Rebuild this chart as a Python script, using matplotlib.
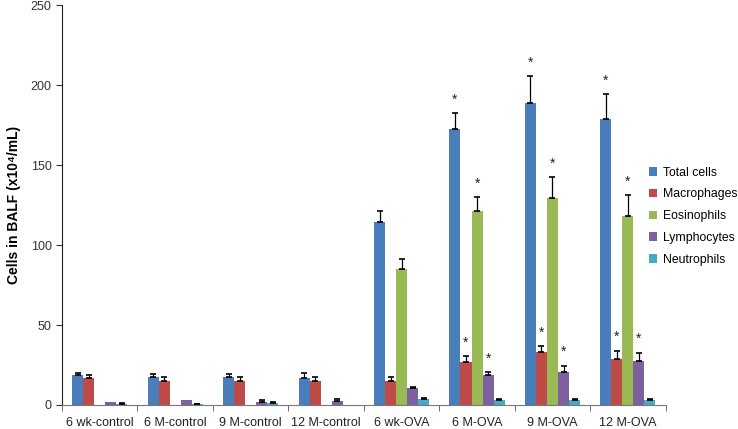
import numpy as np
import matplotlib
matplotlib.use("Agg")
import matplotlib.pyplot as plt

plt.rcParams['font.family'] = ['Liberation Sans', 'DejaVu Sans']

groups = ["6 wk-control", "6 M-control", "9 M-control", "12 M-control",
          "6 wk-OVA", "6 M-OVA", "9 M-OVA", "12 M-OVA"]
series = ["Total cells", "Macrophages", "Eosinophils", "Lymphocytes", "Neutrophils"]
colors = ["#4a7ebb", "#be4b48", "#98b954", "#7d60a0", "#46aac5"]

# nan = no bar / no error bar drawn
total       = [18.5, 17.7, 17.7, 17.1, 114.5, 172.7, 189.0, 178.5]
total_err   = [1.5, 1.5, 1.5, 2.7, 6.5, 9.6, 16.6, 16.0]
macro       = [16.7, 15.2, 15.2, 14.8, 14.8, 27.0, 33.3, 29.0]
macro_err   = [2.3, 2.1, 2.0, 2.7, 3.0, 3.5, 3.5, 5.0]
eos         = [np.nan, np.nan, np.nan, np.nan, 85.0, 121.0, 129.4, 118.3]
eos_err     = [np.nan, np.nan, np.nan, np.nan, 6.0, 9.0, 13.0, 13.0]
lymph       = [2.0, 3.0, 1.9, 2.5, 10.5, 19.0, 20.6, 27.7]
lymph_err   = [np.nan, np.nan, 1.0, 1.5, 1.0, 1.8, 4.0, 5.0]
neut        = [0.4, 0.3, 1.5, np.nan, 3.5, 3.0, 3.0, 3.0]
neut_err    = [0.7, 0.6, 0.5, np.nan, 1.0, 0.8, 0.8, 0.8]

values = [total, macro, eos, lymph, neut]
errors = [total_err, macro_err, eos_err, lymph_err, neut_err]

# significance stars (group index, series index)
stars = [(5, 0), (5, 1), (5, 2), (5, 3),
         (6, 0), (6, 1), (6, 2), (6, 3),
         (7, 0), (7, 1), (7, 2), (7, 3)]

fig = plt.figure(figsize=(7.38, 4.29), dpi=100)
ax = fig.add_axes([0.084, 0.056, 0.818, 0.932])

x = np.arange(len(groups))
w = 0.146
for i, (s, v, e, c) in enumerate(zip(series, values, errors, colors)):
    pos = x + (i - 2) * w
    v = np.array(v, dtype=float)
    e = np.array(e, dtype=float)
    ax.bar(pos, np.nan_to_num(v), width=w, color=c, label=s, linewidth=0, zorder=2)
    ok = ~np.isnan(v) & ~np.isnan(e)
    ax.errorbar(pos[ok], v[ok], yerr=[np.zeros(ok.sum()), e[ok]], fmt="none",
                ecolor="black", elinewidth=0.9, capsize=2.5, capthick=1.2, zorder=3)

for g, si in stars:
    top = values[si][g] + errors[si][g]
    ax.text(g + (si - 2) * w, top + 4, "*", ha="center", va="bottom",
            fontsize=10, color="#222222")

ax.set_xlim(-0.5, len(groups) - 0.5)
ax.set_ylim(0, 250)
ax.set_yticks([0, 50, 100, 150, 200, 250])
ax.set_xticks(x)
ax.set_xticklabels(groups)
ax.set_xticks(np.arange(len(groups) + 1) - 0.5, minor=True)
ax.tick_params(axis="x", which="major", length=0, pad=9, labelsize=9, colors="#222222")
ax.tick_params(axis="x", which="minor", length=4, direction="out", color="#555555")
ax.tick_params(axis="y", length=4, labelsize=9, colors="#333333")
for sp in ["top", "right"]:
    ax.spines[sp].set_visible(False)
ax.spines["left"].set_color("#222222")
ax.spines["bottom"].set_color("#777777")

ax.set_ylabel("Cells in BALF (x10\u2074/mL)", fontsize=10, fontweight="bold", labelpad=7)

fig.legend(loc="center left", bbox_to_anchor=(0.864, 0.496), frameon=False,
           handlelength=0.7, handleheight=0.7, handletextpad=0.45,
           labelspacing=0.8, fontsize=8.8)

fig.savefig("out.png", dpi=100)
